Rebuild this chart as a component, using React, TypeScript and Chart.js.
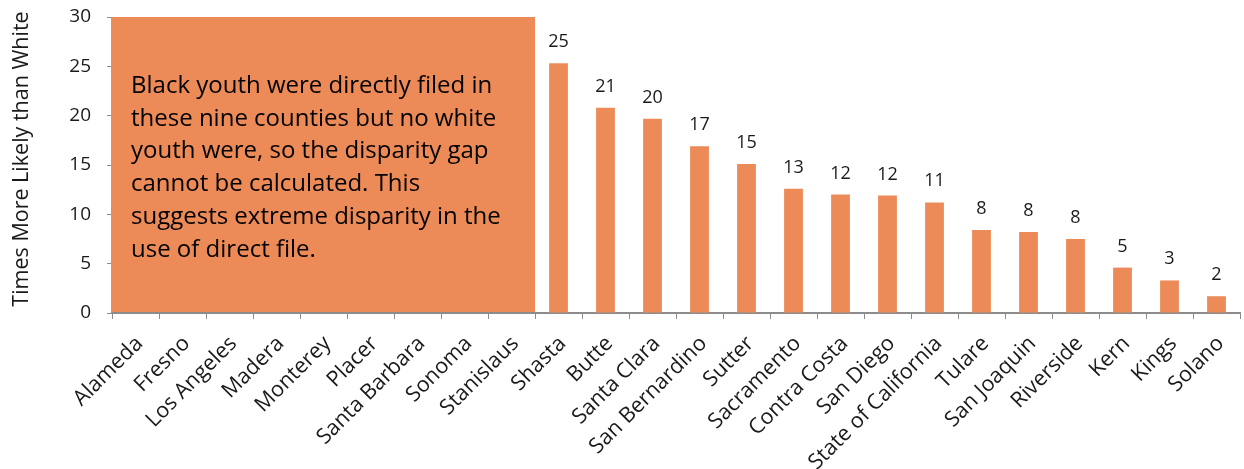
import React, { useEffect, useRef } from "react";
import { Chart, registerables } from "chart.js";

Chart.register(...registerables);

const categories = [
  "Alameda", "Fresno", "Los Angeles", "Madera", "Monterey", "Placer",
  "Santa Barbara", "Sonoma", "Stanislaus", "Shasta", "Butte", "Santa Clara",
  "San Bernardino", "Sutter", "Sacramento", "Contra Costa", "San Diego",
  "State of California", "Tulare", "San Joaquin", "Riverside", "Kern", "Kings", "Solano",
];

const timesMoreLikely: (number | null)[] = [
  null, null, null, null, null, null, null, null, null,
  25.3, 20.8, 19.7, 16.9, 15.1, 12.6, 12.0, 11.9, 11.2, 8.4, 8.2, 7.5, 4.6, 3.3, 1.7,
];

const yTicks = [0, 5, 10, 15, 20, 25, 30];

const yTitle = "Times More Likely than White";

const noteLines = [
  "Black youth were directly filed in",
  "these nine counties but no white",
  "youth were, so the disparity gap",
  "cannot be calculated. This",
  "suggests extreme disparity in the",
  "use of direct file.",
];

const noteCount = 9;

const ORANGE = "#ED8B58";
const FONT = "'Open Sans', 'Noto Sans', sans-serif";
const TEXT = "#1a1a1a";
const AXIS = "#8c8c8c";

const notePlugin = {
  id: "noteBox",
  beforeDatasetsDraw(chart: any) {
    const { ctx, chartArea, scales } = chart;
    const x = scales.x;
    const y = scales.y;
    const left = chartArea.left - 1;
    const right = (x.getPixelForValue(noteCount - 1) + x.getPixelForValue(noteCount)) / 2;
    const top = y.getPixelForValue(yTicks[yTicks.length - 1]);
    const bottom = y.getPixelForValue(0) - 1;
    ctx.save();
    ctx.fillStyle = ORANGE;
    ctx.fillRect(left, top, right - left, bottom - top);
    ctx.fillStyle = "#000";
    ctx.font = `24px ${FONT}`;
    ctx.textAlign = "left";
    ctx.textBaseline = "alphabetic";
    noteLines.forEach((line, i) => {
      ctx.fillText(line, left + 20, top + 76 + i * 32.7);
    });
    ctx.restore();
  },
};

const titlePlugin = {
  id: "yTitle",
  afterDraw(chart: any) {
    const { ctx } = chart;
    ctx.save();
    ctx.translate(22, 159);
    ctx.rotate(-Math.PI / 2);
    ctx.fillStyle = TEXT;
    ctx.font = `21.5px ${FONT}`;
    ctx.textAlign = "center";
    ctx.textBaseline = "middle";
    ctx.fillText(yTitle, 0, 0);
    ctx.restore();
  },
};

const labelPlugin = {
  id: "valueLabels",
  afterDatasetsDraw(chart: any) {
    const { ctx } = chart;
    const meta = chart.getDatasetMeta(0);
    ctx.save();
    ctx.fillStyle = TEXT;
    ctx.font = `18px ${FONT}`;
    ctx.textAlign = "center";
    ctx.textBaseline = "alphabetic";
    meta.data.forEach((bar: any, i: number) => {
      const v = timesMoreLikely[i];
      if (v === null || v === undefined) return;
      ctx.fillText(String(Math.round(v)), bar.x, bar.y - 16);
    });
    ctx.restore();
  },
};

export default function App() {
  const ref = useRef<HTMLCanvasElement>(null);
  useEffect(() => {
    if (!ref.current) return;
    const chart = new Chart(ref.current, {
      type: "bar",
      data: {
        labels: categories,
        datasets: [
          {
            data: timesMoreLikely as any,
            backgroundColor: ORANGE,
            borderWidth: 0,
            categoryPercentage: 1,
            barPercentage: 0.4,
          },
        ],
      },
      options: {
        responsive: false,
        animation: false,
        layout: { padding: { top: 17, right: 4, left: 0, bottom: 0 } },
        plugins: { legend: { display: false }, tooltip: { enabled: false } },
        scales: {
          x: {
            grid: {
              display: true,
              drawOnChartArea: false,
              drawTicks: true,
              tickLength: 6,
              color: AXIS,
              offset: true,
            },
            border: { display: true, color: AXIS, width: 2 },
            ticks: {
              color: TEXT,
              font: { family: FONT, size: 21.5 },
              maxRotation: 45,
              minRotation: 45,
              autoSkip: false,
              padding: 12,
              labelOffset: 4,
            },
            afterFit: (s: any) => {
              s.height = 156;
              s.paddingLeft = 0;
              s.paddingRight = 0;
            },
          },
          y: {
            min: 0,
            max: 30,
            afterBuildTicks: (s: any) => {
              s.ticks = yTicks.map((v) => ({ value: v }));
            },
            grid: {
              display: true,
              drawOnChartArea: false,
              drawTicks: true,
              tickLength: 5,
              color: AXIS,
            },
            border: { display: true, color: AXIS, width: 1 },
            ticks: {
              color: TEXT,
              font: { family: FONT, size: 19 },
              padding: 16,
            },
            title: { display: false },
            afterFit: (s: any) => {
              s.width = 112;
              s.paddingTop = 0;
              s.paddingBottom = 0;
            },
          },
        },
      },
      plugins: [notePlugin, labelPlugin, titlePlugin],
    });
    return () => chart.destroy();
  }, []);
  return (
    <div style={{ position: "absolute", left: 0, top: 0, width: 1244, height: 469, background: "#fff" }}>
      <canvas ref={ref} width={1244} height={469} />
    </div>
  );
}
